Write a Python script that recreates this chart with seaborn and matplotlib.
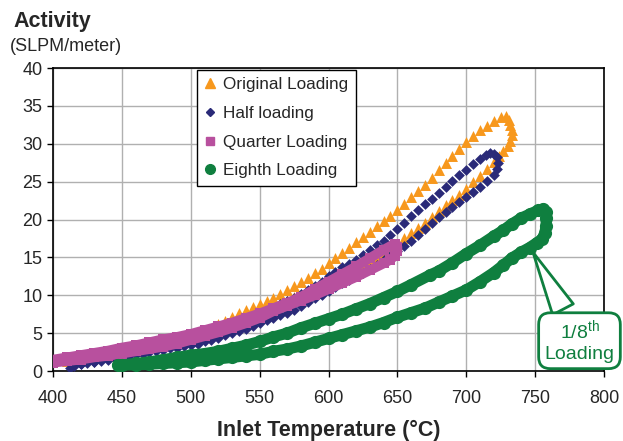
import seaborn as sns
import matplotlib.pyplot as plt
from matplotlib.lines import Line2D

# Data (inlet temperature in C, activity in SLPM/meter)
orig_temp = [400, 410, 420, 430, 440, 450, 460, 470, 480, 490, 500, 510, 520, 525,
             530, 535, 540, 545, 550, 555, 560, 565, 570, 575, 580, 585, 590, 595,
             600, 605, 610, 615, 620, 625, 630, 635, 640, 645, 650, 655, 660, 665,
             670, 675, 680, 685, 690, 695, 700, 705, 710, 715, 720, 725, 729,
             731, 732, 733, 733, 732,
             730, 727, 724, 720, 715, 710, 705, 700, 695, 690, 685, 680, 675, 670,
             665, 660, 655, 650, 645, 640, 635, 630, 625, 620, 615, 610, 605, 600,
             595, 590, 585, 580, 575, 570, 565, 560, 550, 540, 530, 520, 510, 500,
             490, 480, 470, 460, 450, 440, 430, 420, 410]
orig_act = [1.3, 1.6, 1.9, 2.2, 2.5, 2.8, 3.1, 3.5, 3.8, 4.2, 4.6, 5.3, 6.2, 6.6,
            7.1, 7.6, 8.0, 8.4, 8.8, 9.2, 9.7, 10.2, 10.7, 11.2, 11.8, 12.3, 12.9, 13.5,
            14.2, 14.9, 15.6, 16.3, 17.0, 17.7, 18.4, 19.1, 19.8, 20.5, 21.3, 22.1, 23.0, 23.8,
            24.6, 25.5, 26.5, 27.4, 28.4, 29.3, 30.2, 31.0, 31.8, 32.4, 33.0, 33.5, 33.7,
            33.2, 32.5, 31.8, 31.1, 30.4,
            29.7, 29.1, 28.4, 27.6, 26.7, 25.8, 24.9, 24.0, 23.3, 22.6, 21.9, 21.1, 20.3, 19.6,
            18.9, 18.2, 17.5, 16.8, 16.2, 15.6, 15.0, 14.5, 14.0, 13.5, 13.0, 12.6, 12.2, 11.8,
            11.4, 11.0, 10.6, 10.2, 9.8, 9.4, 9.0, 8.6, 7.8, 7.0, 6.3, 5.6, 5.0, 4.4,
            3.9, 3.4, 3.0, 2.6, 2.3, 2.0, 1.7, 1.5, 1.3]

half_temp = [412, 415, 420, 425, 430, 435, 440, 445, 450, 455, 460, 465, 470, 475,
             480, 485, 490, 495, 500, 505, 510, 515, 520, 525, 530, 535, 540, 545,
             550, 555, 560, 565, 570, 575, 580, 585, 590, 595, 600, 605, 610, 615,
             620, 625, 630, 635, 640, 645, 650, 655, 660, 665, 670, 675, 680, 685,
             690, 695, 700, 705, 710, 715, 720, 722, 723,
             722, 720, 717, 714, 710,
             705, 700, 695, 690, 685, 680, 675, 670, 665, 660, 655, 650, 645, 640,
             635, 630, 625, 620, 615, 610, 605, 600, 595, 590, 585, 580, 575, 570,
             565, 560, 550, 540, 530, 520, 510, 500, 490, 480, 470, 460, 450, 440,
             430, 420]
half_act = [0.4, 0.7, 0.9, 1.0, 1.2, 1.3, 1.5, 1.7, 1.9, 2.0, 2.2, 2.3, 2.5, 2.6,
            2.8, 3.0, 3.1, 3.3, 3.4, 3.6, 3.9, 4.1, 4.4, 4.7, 5.0, 5.3, 5.6, 6.0,
            6.3, 6.7, 7.0, 7.4, 7.7, 8.1, 8.6, 9.1, 9.6, 10.1, 10.6, 11.1, 11.6, 12.0,
            12.5, 13.0, 13.5, 14.0, 14.6, 15.2, 15.8, 16.5, 17.2, 18.0, 18.8, 19.5, 20.3, 21.0,
            21.6, 22.3, 23.0, 23.6, 24.3, 25.1, 25.9, 26.7, 27.5,
            28.3, 28.7, 28.8, 28.5, 28.0,
            27.3, 26.6, 25.9, 25.1, 24.3, 23.5, 22.7, 22.0, 21.3, 20.5, 19.6, 18.7, 18.0, 17.2,
            16.6, 16.0, 15.3, 14.7, 14.1, 13.7, 13.1, 12.5, 11.8, 11.2, 10.7, 10.2, 9.7, 9.2,
            8.8, 8.3, 7.5, 6.7, 6.0, 5.3, 4.7, 4.1, 3.6, 3.1, 2.7, 2.3, 1.9, 1.6,
            1.2, 0.9]

quarter_temp = [400, 410, 420, 430, 440, 450, 460, 470, 480, 490, 500, 510, 520, 530,
                540, 550, 560, 570, 580, 590, 600, 610, 620, 630, 640, 648,
                650, 650, 648,
                645, 640, 630, 620, 610, 600, 590, 580, 570, 560, 550, 540, 530, 520,
                510, 500, 490, 480, 470, 460, 450, 440, 430, 420, 410, 400]
quarter_act = [1.5, 1.8, 2.1, 2.4, 2.7, 3.1, 3.4, 3.8, 4.2, 4.5, 4.9, 5.4, 5.9, 6.4,
               7.0, 7.6, 8.3, 9.0, 9.8, 10.8, 11.8, 12.8, 13.8, 14.9, 16.0, 16.8,
               16.4, 15.8, 15.2,
               14.7, 14.2, 13.3, 12.4, 11.6, 10.8, 10.0, 9.3, 8.6, 7.9, 7.0, 6.3, 5.7, 5.1,
               4.6, 4.1, 3.6, 3.2, 2.9, 2.6, 2.3, 2.0, 1.8, 1.5, 1.3, 1.1]

eighth_temp = [447, 460, 470, 480, 490, 500, 510, 520, 530, 540, 550, 560, 570, 580,
               590, 600, 610, 620, 630, 640, 650, 660, 670, 680, 690, 700, 710, 720,
               727, 733, 740, 746, 751, 755, 757, 758, 758, 758, 756,
               752, 746, 740, 733, 727, 720, 710, 700, 690, 680, 674, 660, 650, 640,
               630, 620, 610, 600, 590, 580, 570, 560, 550, 540, 530, 520, 510, 500,
               490, 480, 470, 460, 450]
eighth_act = [0.8, 0.8, 0.9, 1.0, 1.1, 1.2, 1.4, 1.6, 1.8, 2.0, 2.2, 2.6, 2.9, 3.3,
              3.8, 4.3, 4.8, 5.3, 5.8, 6.4, 7.1, 7.7, 8.3, 9.1, 9.9, 10.7, 11.8, 13.0,
              14.0, 14.9, 15.7, 16.3, 16.9, 17.4, 18.2, 19.2, 20.2, 21.0, 21.4,
              21.2, 20.7, 20.2, 19.4, 18.6, 17.8, 16.6, 15.5, 14.3, 13.2, 12.7, 11.4, 10.5, 9.7,
              8.9, 8.2, 7.5, 6.9, 6.3, 5.7, 5.0, 4.5, 3.9, 3.4, 3.0, 2.6, 2.3, 2.1,
              1.8, 1.5, 1.2, 1.0, 0.8]

x_ticks = [400, 450, 500, 550, 600, 650, 700, 750, 800]
y_ticks = [0, 5, 10, 15, 20, 25, 30, 35, 40]

orange = "#F7981D"
navy = "#2A2A78"
pink = "#B8509E"
green = "#0F7F3F"

sns.set_style("ticks")
plt.rcParams["font.family"] = ["Liberation Sans", "DejaVu Sans"]
plt.rcParams["mathtext.fontset"] = "custom"
plt.rcParams["mathtext.rm"] = "Liberation Sans"

fig = plt.figure(figsize=(6.23, 4.41), dpi=100)
ax = fig.add_axes([0.0851, 0.1587, 0.8844, 0.6871])

sns.scatterplot(x=orig_temp, y=orig_act, marker="^", s=62, color=orange,
                linewidth=0, label="Original Loading", ax=ax, zorder=3)
sns.scatterplot(x=half_temp, y=half_act, marker="D", s=30, color=navy,
                linewidth=0, label="Half loading", ax=ax, zorder=4)
sns.lineplot(x=quarter_temp, y=quarter_act, sort=False, estimator=None,
             color=pink, linewidth=7, legend=False, ax=ax, zorder=5)
sns.scatterplot(x=quarter_temp, y=quarter_act, marker="s", s=55, color=pink,
                linewidth=0, label="Quarter Loading", ax=ax, zorder=5)
sns.lineplot(x=eighth_temp, y=eighth_act, sort=False, estimator=None,
             color=green, linewidth=8, legend=False, ax=ax, zorder=6)
sns.scatterplot(x=eighth_temp, y=eighth_act, marker="o", s=90, color=green,
                linewidth=0, label="Eighth Loading", ax=ax, zorder=6)

ax.set_xlim(400, 800)
ax.set_ylim(0, 40)
ax.set_xticks(x_ticks)
ax.set_yticks(y_ticks)
ax.grid(True, color="#b0b0b0", linewidth=1)
ax.set_axisbelow(True)
for sp in ax.spines.values():
    sp.set_color("black")
    sp.set_linewidth(1.2)
ax.tick_params(axis="both", length=4, width=1, labelsize=13, color="black")
ax.tick_params(axis="x", pad=10)
ax.set_xlabel("Inlet Temperature (°C)", fontsize=15.5, fontweight="bold", labelpad=9)
ax.set_ylabel("")

fig.text(0.021, 0.939, "Activity", fontsize=15.5, fontweight="bold", va="baseline")
fig.text(0.016, 0.884, "(SLPM/meter)", fontsize=13, va="baseline")

handles = [
    Line2D([], [], linestyle="none", marker="^", markersize=7, color=orange),
    Line2D([], [], linestyle="none", marker="D", markersize=4.5, color=navy),
    Line2D([], [], linestyle="none", marker="s", markersize=5.5, color=pink),
    Line2D([], [], linestyle="none", marker="o", markersize=7, color=green),
]
labels = ["Original Loading", "Half loading", "Quarter Loading", "Eighth Loading"]
leg = ax.legend(handles, labels, loc="upper left", bbox_to_anchor=(0.261, 0.995),
                fontsize=12.3, frameon=True, fancybox=False, framealpha=1,
                edgecolor="black", handlelength=0.7, handletextpad=0.4,
                labelspacing=0.8, borderpad=0.45, borderaxespad=0)
leg.get_frame().set_linewidth(1)

ax.annotate("1/8$^{\\rm th}$\nLoading", xy=(747.5, 16.0), xytext=(782.2, 4.0),
            ha="center", va="center", fontsize=14, color=green,
            bbox=dict(boxstyle="round,pad=0.3,rounding_size=0.6", fc="white",
                      ec=green, lw=2),
            arrowprops=dict(arrowstyle="wedge,tail_width=1.2,shrink_factor=0.5",
                            fc="white", ec=green, lw=2),
            annotation_clip=False, zorder=10)

fig.savefig("out.png", dpi=100)
